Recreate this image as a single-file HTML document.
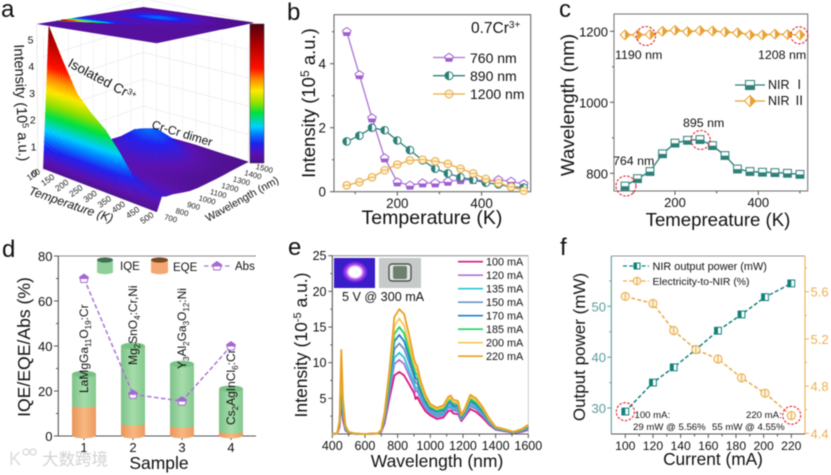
<!DOCTYPE html>
<html lang="en">
<head>
<meta charset="utf-8">
<title>Cr3+ near-infrared phosphor figure</title>
<style>
html,body{margin:0;padding:0;background:#fff;}
#figure{display:block;width:831px;height:475px;filter:blur(0.45px);font-family:"Liberation Sans","Noto Sans CJK SC",sans-serif;fill:#111;}
text{font-family:"Liberation Sans","Noto Sans CJK SC",sans-serif;}
</style>
</head>
<body>
<svg id="figure" xmlns="http://www.w3.org/2000/svg" width="831" height="475" viewBox="0 0 831 475">
<defs>
<linearGradient id="green-body" x1="0" x2="1" y1="0" y2="0"><stop offset="0" stop-color="#7cc488"/><stop offset=".5" stop-color="#a6dcaa"/><stop offset="1" stop-color="#84c98f"/></linearGradient>
<linearGradient id="orange-body" x1="0" x2="1" y1="0" y2="0"><stop offset="0" stop-color="#e8945a"/><stop offset=".5" stop-color="#f8b880"/><stop offset="1" stop-color="#eb9a60"/></linearGradient>
<radialGradient id="led-glow"><stop offset="0" stop-color="#fff"/><stop offset=".45" stop-color="#fff"/><stop offset=".7" stop-color="#b040f0"/><stop offset="1" stop-color="#3a1cc8"/></radialGradient>
<linearGradient id="colorbar-gradient" x1="0" x2="0" y1="1" y2="0">
<stop offset="0" stop-color="#4b1088"/><stop offset=".06" stop-color="#5a10b0"/><stop offset=".14" stop-color="#2020f0"/><stop offset=".21" stop-color="#0080ff"/><stop offset=".26" stop-color="#00d0ff"/><stop offset=".36" stop-color="#00e040"/><stop offset=".43" stop-color="#90e000"/><stop offset=".52" stop-color="#ffe800"/><stop offset=".6" stop-color="#ff8c00"/><stop offset=".68" stop-color="#ff1000"/><stop offset=".85" stop-color="#b00000"/><stop offset="1" stop-color="#500010"/>
</linearGradient>
</defs>

<text x="1" y="17" font-size="24">a</text>
<text x="287" y="20" font-size="24">b</text>
<text x="559" y="17" font-size="24">c</text>
<text x="2" y="257" font-size="24">d</text>
<text x="288" y="255" font-size="24">e</text>
<text x="560" y="255" font-size="24">f</text>

<g id="panel-a"></g>
<g id="panel-b"></g>
<g id="panel-c"></g>
<g id="panel-d"></g>
<g id="panel-e"></g>
<g id="panel-f"></g>

<!-- panel a text -->
<text transform="translate(16.5,103) rotate(87.5)" text-anchor="middle" font-size="14.5">Intensity (10<tspan dy="-5" font-size="9">5</tspan><tspan dy="5"> a.u.)</tspan></text>
<text transform="translate(67,66) rotate(28)" font-size="13.5">Isolated Cr<tspan dy="-4" font-size="8.5">3+</tspan></text>
<text transform="translate(151,128) rotate(17)" font-size="12">Cr-Cr dimer</text>
<text transform="translate(28,194) rotate(19)" font-size="12.2" font-style="italic">Temperature (K)</text>
<text transform="translate(208,222) rotate(-29)" font-size="10.8">Wavelength (nm)</text>

<!-- panel b text -->
<text x="432" y="224" text-anchor="middle" font-size="19.5">Temperature (K)</text>
<text transform="translate(315,103) rotate(-90)" text-anchor="middle" font-size="18.5">Intensity (10<tspan dy="-6" font-size="12">5</tspan><tspan dy="6"> a.u.)</tspan></text>
<text x="471" y="33" font-size="15.5">0.7Cr<tspan dy="-5" font-size="10">3+</tspan></text>
<text x="470" y="63" font-size="14">760 nm</text>
<text x="470" y="81" font-size="14">890 nm</text>
<text x="470" y="99" font-size="14">1200 nm</text>

<!-- panel c text -->
<text x="718" y="226" text-anchor="middle" font-size="18.6">Temepreature (K)</text>
<text transform="translate(574,105) rotate(-90)" text-anchor="middle" font-size="18.8">Wavelength (nm)</text>
<text x="615" y="59" font-size="12.4">1190 nm</text>
<text x="758" y="59" font-size="12.4">1208 nm</text>
<text x="683" y="127" font-size="12.4">895 nm</text>
<text x="613" y="165" font-size="12.4">764 nm</text>
<text x="768" y="89" font-size="12.5">NIR Ⅰ</text>
<text x="768" y="105" font-size="12.5">NIR Ⅱ</text>

<!-- panel d text -->
<text x="159" y="469" text-anchor="middle" font-size="17.5">Sample</text>
<text transform="translate(30,347) rotate(-90)" text-anchor="middle" font-size="17.6">IQE/EQE/Abs (%)</text>
<text transform="translate(88,393) rotate(-90)" font-size="12">LaMgGa<tspan dy="3" font-size="8">11</tspan><tspan dy="-3">O</tspan><tspan dy="3" font-size="8">19</tspan><tspan dy="-3">:Cr</tspan></text>
<text transform="translate(137,365) rotate(-90)" font-size="12">Mg<tspan dy="3" font-size="8">2</tspan><tspan dy="-3">SnO</tspan><tspan dy="3" font-size="8">4</tspan><tspan dy="-3">:Cr,Ni</tspan></text>
<text transform="translate(186,369) rotate(-90)" font-size="12">Y<tspan dy="3" font-size="8">3</tspan><tspan dy="-3">Al</tspan><tspan dy="3" font-size="8">2</tspan><tspan dy="-3">Ga</tspan><tspan dy="3" font-size="8">3</tspan><tspan dy="-3">O</tspan><tspan dy="3" font-size="8">12</tspan><tspan dy="-3">:Ni</tspan></text>
<text transform="translate(235,425) rotate(-90)" font-size="12">Cs<tspan dy="3" font-size="8">2</tspan><tspan dy="-3">AgInCl</tspan><tspan dy="3" font-size="8">6</tspan><tspan dy="-3">:Cr</tspan></text>
<text x="120" y="270" font-size="11.5">IQE</text>
<text x="173" y="271" font-size="11.5">EQE</text>
<text x="235" y="270" font-size="11.5">Abs</text>
<g>
<text x="9" y="465" font-size="18" fill="#dcdcdc">K</text>
<circle cx="26" cy="452" r="3" fill="none" stroke="#dcdcdc" stroke-width="1.5"/>
<circle cx="33" cy="452" r="3" fill="none" stroke="#dcdcdc" stroke-width="1.5"/>
<text x="42" y="465" font-size="16.5" fill="#d2d2d2">大数跨境</text>
</g>

<!-- panel e text -->
<text x="437" y="467" text-anchor="middle" font-size="17.5">Wavelength (nm)</text>
<text transform="translate(307,345) rotate(-90)" text-anchor="middle" font-size="17.5">Intensity (10<tspan dy="-6" font-size="11">-5</tspan><tspan dy="6"> a.u.)</tspan></text>
<g>
<rect x="334" y="258" width="41" height="30" fill="#3a1cc8"/>
<ellipse cx="355" cy="272" rx="13" ry="11" fill="url(#led-glow)"/>
</g>
<g>
<rect x="379" y="258" width="42" height="30" fill="#c6cac8"/>
<rect x="389" y="264" width="22" height="17" rx="3" fill="#e4e6e2" stroke="#4d5550" stroke-width="1.4"/>
<rect x="393" y="266" width="14" height="13" rx="2" fill="#6d8070"/>
</g>
<text x="342" y="301" font-size="12.6">5 V @ 300 mA</text>

<!-- panel f text -->
<text x="713" y="465" text-anchor="middle" font-size="17.3">Current (mA)</text>
<text transform="translate(585,347) rotate(-90)" text-anchor="middle" font-size="17">Output power (mW)</text>
<text x="652.5" y="270" font-size="10.9">NIR output power (mW)</text>
<text x="652.5" y="285" font-size="10.4">Electricity-to-NIR (%)</text>
<text x="634.5" y="418" font-size="9.6">100 mA:</text>
<text x="633" y="430" font-size="9.6">29 mW @ 5.56%</text>
<text x="746" y="418" font-size="9.6">220 mA:</text>
<text x="712" y="430" font-size="9.6">55 mW @ 4.55%</text>
</svg>

<script>
/* ---------- panel a data ---------- */
const aTemps = [100,150,200,250,300,350,400,450,500];
const aWaves = [700,744,780,844,916,988,1060,1140,1212,1284,1356,1500];
const aT100 = [.05,5.0,2.5,1.0,.5,.3,.25,.25,.2,.15,.1,.05];
const aT150 = [.05,3.95,2.2,1.0,.5,.3,.3,.4,.5,.4,.25,.08];
const aT200 = [.05,3.0,1.7,.8,.45,.3,.35,.6,.9,.8,.45,.1];
const aT250 = [.05,2.5,1.4,.7,.4,.3,.4,.7,1.05,.95,.5,.1];
const aT300 = [.05,2.1,1.15,.6,.35,.3,.35,.6,.9,.8,.45,.1];
const aT350 = [.05,1.5,.85,.5,.32,.26,.28,.4,.55,.5,.3,.08];
const aT400 = [.05,.8,.55,.4,.3,.22,.2,.22,.28,.26,.18,.06];
const aT450 = [.05,.55,.45,.38,.28,.18,.14,.12,.14,.14,.1,.05];
const aT500 = [.05,.5,.42,.36,.25,.15,.1,.08,.06,.05,.05,.03];
const aIntensity = [aT100,aT150,aT200,aT250,aT300,aT350,aT400,aT450,aT500];
const aZTicks = [0,1,2,3,4,5];
const aTempTicks = [100,150,200,250,300,350,400,450,500];
const aWaveTicks = [700,800,900,1000,1100,1200,1300,1400,1500];

/* ---------- panel b data ---------- */
const bTemps = [80,110,140,170,200,230,260,290,320,350,380,410,440,470,500];
const b760 = [5.0,3.65,2.3,1.05,.3,.2,.27,.27,.32,.37,.38,.33,.37,.32,.24];
const b890 = [1.57,1.75,2.0,1.92,1.6,1.3,.98,.72,.57,.45,.37,.28,.23,.15,.13];
const b1200 = [.2,.3,.45,.67,.85,.98,1.0,.95,.87,.72,.57,.4,.27,.15,.03];
const bXTicks = [200,400];
const bYTicks = [0,2,4];

/* ---------- panel c data ---------- */
const cTemps = [80,110,140,170,200,230,260,290,320,350,380,410,440,470,500];
const cNir1 = [764,785,805,855,885,893,895,878,850,812,805,803,802,800,797];
const cNir2 = [1190,1190,1191,1200,1203,1199,1202,1201,1198,1196,1190,1190,1192,1191,1190];
const cXTicks = [200,400];
const cYTicks = [800,1000,1200];

/* ---------- panel d data ---------- */
const dSamples = [1,2,3,4];
const dIqe = [27.5,40,32,21];
const dEqe = [13.5,5.5,4.5,2];
const dAbs = [70,18.5,15.5,40];
const dYTicks = [0,20,40,60,80];

/* ---------- panel e data ---------- */
const eWaves = [400,430,445,455,465,480,500,540,600,680,700,720,750,780,810,840,870,900,910,920,940,970,1000,1040,1080,1110,1125,1140,1160,1170,1190,1210,1245,1280,1320,1360,1400,1450,1510,1560,1600];
const e100 = [0,.05,1,4.6,2,.5,.15,.02,0,.05,.3,1.5,5,8.2,8.7,8.2,7,5.8,4.9,5.2,4.3,3.2,2.6,2.1,2.3,3.2,3.3,2.9,2.8,2.8,1.8,2.4,3.5,3.1,2.3,1.3,.6,.4,.15,.3,.6];
const e120 = [0,.06,1.2,6,2.6,.6,.2,.03,0,.06,.4,1.8,5.8,9.8,10.4,9.8,8.2,6.7,5.9,6.1,4.9,3.6,2.9,2.4,2.6,3.6,3.7,3.3,3.2,3.1,2,2.6,3.9,3.5,2.6,1.5,.7,.45,.18,.38,.73];
const e135 = [0,.07,1.3,6.8,2.9,.7,.2,.03,0,.07,.4,2,6.2,10.7,11.4,10.7,8.9,7.2,6.4,6.5,5.3,3.9,3.1,2.6,2.8,3.8,3.9,3.5,3.4,3.4,2.1,2.7,4.1,3.7,2.8,1.6,.7,.5,.2,.42,.8];
const e150 = [0,.07,1.5,7.6,3.4,.8,.2,.03,0,.07,.4,2.2,6.8,11.9,12.7,11.9,10,8,7.2,7.1,5.7,4.2,3.3,2.8,3,4.1,4.2,3.8,3.6,3.6,2.2,2.9,4.4,4,3,1.7,.8,.5,.22,.48,.93];
const e170 = [0,.08,1.6,8.6,3.7,.9,.23,.04,0,.08,.5,2.4,7.4,13,13.9,13,10.8,8.6,7.8,7.7,6.2,4.6,3.6,3.1,3.3,4.4,4.5,4,3.9,3.9,2.4,3.1,4.7,4.2,3.2,1.8,.85,.55,.24,.53,1];
const e185 = [0,.09,1.7,9.4,4,1,.25,.04,0,.09,.5,2.6,7.9,14,15,14.1,11.6,9.2,8.5,8.3,6.6,4.9,3.8,3.3,3.5,4.7,4.8,4.3,4.2,4.1,2.5,3.2,4.9,4.4,3.4,1.9,.9,.6,.26,.58,1.1];
const e200 = [0,.09,1.8,10.6,4.5,1.1,.28,.05,0,.09,.55,2.8,8.4,15.1,16.2,15.2,12.5,9.8,9.2,8.9,7,5.2,4,3.5,3.8,4.9,5,4.5,4.4,4.3,2.6,3.3,5.2,4.7,3.6,2,.95,.65,.28,.64,1.2];
const e220 = [0,.1,2,11.8,5,1.2,.3,.05,0,.1,.6,3,9,16.4,17.5,16.8,13.9,10.5,9.9,9.5,7.5,5.5,4.2,3.7,4,5.2,5.4,4.8,4.7,4.6,2.7,3.5,5.5,5,3.8,2.2,1,.7,.3,.7,1.3];
const eSeriesValues = [e100,e120,e135,e150,e170,e185,e200,e220];
const eSeriesLabels = ['100 mA','120 mA','135 mA','150 mA','170 mA','185 mA','200 mA','220 mA'];
const eXTicks = [400,600,800,1000,1200,1400,1600];
const eYTicks = [5,10,15,20,25];

/* ---------- panel f data ---------- */
const fCurrent = [100,120,135,151,167,184,201,220];
const fPower = [29.3,35,38,41.5,45.2,48.4,51.8,54.5];
const fEfficiency = [5.56,5.5,5.27,5.11,5.03,4.87,4.74,4.55];
const fXTicks = [100,120,140,160,180,200,220];
const fLeftTicks = [30,40,50];
const fRightTicks = [4.4,4.8,5.2,5.6];

/* ---------- helpers ---------- */
const NS = 'http://www.w3.org/2000/svg';
function mk(tag, attrs, parent) {
  const e = document.createElementNS(NS, tag);
  for (const k in attrs) e.setAttribute(k, attrs[k]);
  parent.appendChild(e);
  return e;
}
function linear(d0, d1, r0, r1) { return v => r0 + (v - d0) * (r1 - r0) / (d1 - d0); }
function xTick(parent, x, y, len, color) {
  const t = mk('line', {x1:x, x2:x, y1:y, y2:y + len, stroke:color, 'stroke-width':1}, parent);
  
  
}
function yTick(parent, x, y, len, color) {
  const t = mk('line', {x1:x, x2:x + len, y1:y, y2:y, stroke:color, 'stroke-width':1}, parent);
  
  
}
function tickText(parent, x, y, str, anchor, size, color) {
  const t = mk('text', {x:x, y:y, 'text-anchor':anchor, 'font-size':size, fill:color}, parent);
  t.textContent = str;
  
  
}
function frame(parent, l, r, t, b, color) {
  const f = mk('rect', {x:l, y:t, width:r - l, height:b - t, fill:'none', stroke:color, 'stroke-width':1.1}, parent);
  
  
}
function polyline(parent, xs, ys, color, width, dash) {
  const pts = xs.map((x, i) => x.toFixed(2) + ',' + ys[i].toFixed(2)).join(' ');
  const p = mk('polyline', {points:pts, fill:'none', stroke:color, 'stroke-width':width, 'stroke-linejoin':'round'}, parent);
  if (dash) p.setAttribute('stroke-dasharray', dash);
  
  
  return p;
}
function marker(parent, kind, cx, cy, r, color) {
  const g = mk('g', {transform:'translate(' + cx.toFixed(2) + ',' + cy.toFixed(2) + ')', stroke:color, 'stroke-width':1}, parent);
  
  
  const f = {fill:color, stroke:'none'};
  const pent = (r) => '0,' + (-r) + ' ' + r + ',' + (-.3*r) + ' ' + (.68*r) + ',' + (.9*r) + ' ' + (-.68*r) + ',' + (.9*r) + ' ' + (-r) + ',' + (-.3*r);
  if (kind === 'pent-bottom' || kind === 'pent-top') {
    mk('polygon', {points:pent(r), fill:'#fff'}, g);
    if (kind === 'pent-bottom') {
      mk('polygon', Object.assign({points:(-.85*r)+','+(.1*r)+' '+(.85*r)+','+(.1*r)+' '+(.68*r)+','+(.9*r)+' '+(-.68*r)+','+(.9*r)}, f), g);
    } else {
      mk('polygon', Object.assign({points:(-r)+','+(-.3*r)+' 0,'+(-r)+' '+r+','+(-.3*r)+' '+(.85*r)+','+(.1*r)+' '+(-.85*r)+','+(.1*r)}, f), g);
    }
  } else if (kind === 'circle-left') {
    mk('circle', {r:r, fill:'#fff'}, g);
    mk('path', Object.assign({d:'M0,'+(-r)+' A'+r+','+r+' 0 0 0 0,'+r+' Z'}, f), g);
  } else if (kind === 'circle-h') {
    mk('circle', {r:r, fill:'#fdf1d8'}, g);
    mk('line', {x1:-r, x2:r, y1:0, y2:0}, g);
  } else if (kind === 'circle-v') {
    mk('circle', {r:r, fill:'#fdf1d8'}, g);
    mk('line', {x1:0, x2:0, y1:-r, y2:r}, g);
  } else if (kind === 'square-bottom') {
    mk('rect', {x:-r, y:-r, width:2*r, height:2*r, fill:'#fff'}, g);
    mk('rect', Object.assign({x:-r, y:.1, width:2*r, height:r}, f), g);
  } else if (kind === 'square-left') {
    mk('rect', {x:-r, y:-r, width:2*r, height:2*r, fill:'#fff'}, g);
    mk('rect', Object.assign({x:-r, y:-r, width:r, height:2*r}, f), g);
  } else if (kind === 'diamond-right') {
    mk('polygon', {points:'0,'+(-r)+' '+r+',0 0,'+r+' '+(-r)+',0', fill:'#fff'}, g);
    mk('polygon', Object.assign({points:'0,'+(-r)+' '+r+',0 0,'+r}, f), g);
  }
}
function dashedCircle(parent, cx, cy, r) {
  const c = mk('circle', {cx:cx, cy:cy, r:r, fill:'none', stroke:'#e0202c', 'stroke-width':1.1, 'stroke-dasharray':'2.5 1.5'}, parent);
  
  
}
function legendLine(parent, x1, x2, y, color, dash) {
  const l = mk('line', {x1:x1, x2:x2, y1:y, y2:y, stroke:color, 'stroke-width':1.3}, parent);
  if (dash) l.setAttribute('stroke-dasharray', dash);
  
  
}

/* ---------- panel a ---------- */
(function () {
  const root = document.getElementById('panel-a');
  const A = [43.3,170], B = [156.7,213.3], C = [248.3,162.7], D = [143.3,133];
  const L = [36.7,24], F = [156.7,43.3], R = [253.3,22.7], K = [143.3,7.3];
  const zPx = 28.3;
  const stops = [[0,[75,16,136]],[.3,[90,16,176]],[.75,[32,32,240]],[1.1,[0,128,255]],[1.4,[0,208,255]],[1.9,[0,224,64]],[2.3,[144,224,0]],[2.75,[255,232,0]],[3.2,[255,140,0]],[3.6,[255,16,0]],[4.5,[176,0,0]],[5.3,[80,0,16]]];
  function colour(z) {
    for (let i = 1; i < stops.length; i++) {
      if (z <= stops[i][0]) {
        const a = stops[i-1], b = stops[i], t = Math.max(0, (z - a[0]) / (b[0] - a[0]));
        return 'rgb(' + a[1].map((c, k) => Math.round(c + (b[1][k] - c) * t)).join(',') + ')';
      }
    }
    return 'rgb(80,0,16)';
  }
  const bil = (P00, P10, P11, P01, u, v) => [0, 1].map(k =>
    (1-u)*(1-v)*P00[k] + u*(1-v)*P01[k] + u*v*P11[k] + (1-u)*v*P10[k]);
  const uOf = linear(aWaves[0], aWaves[aWaves.length-1], 0, 1);
  const vOf = linear(aTemps[0], aTemps[aTemps.length-1], 0, 1);
  const floor = (u, v) => bil(A, B, C, D, u, v);
  /* the top projection sits slightly warped relative to the floor */
  const ceil = (u, v) => {
    const uu = Math.min(1, .19 + .81 * u + .2 * v * (1 - u));
    const vv = v * (.33 + .67 * Math.min(1, u / .5));
    return bil(L, F, R, K, uu, vv);
  };

  /* walls */
  const wallL = mk('polygon', {points:[[38,172],L,K,D].map(p => p.join(',')).join(' '), fill:'#fff', stroke:'#ddd', 'stroke-width':.6}, root);
  
  
  const wallR = mk('polygon', {points:[D,K,R,C].map(p => p.join(',')).join(' '), fill:'#fff', stroke:'#ddd', 'stroke-width':.6}, root);
  
  
  aZTicks.forEach(z => {
    const h = z * zPx;
    const g1 = mk('line', {x1:A[0], y1:A[1]-h, x2:D[0], y2:D[1]-h*.95, stroke:'#e6e6e6', 'stroke-width':.6}, root);
    
    
    const g2 = mk('line', {x1:D[0], y1:D[1]-h*.95, x2:C[0], y2:C[1]-h, stroke:'#e6e6e6', 'stroke-width':.6}, root);
    
    
    tickText(root, 30.5 + (5 - z) * .75, 177 - z * 26.7, String(z), 'middle', 10.5, '#111');
  });
  aWaveTicks.forEach(w => {
    const u = (w - 700) / 800;
    const p = floor(u, 0);
    const g = mk('line', {x1:p[0], y1:p[1], x2:p[0], y2:p[1]-135, stroke:'#ececec', 'stroke-width':.6}, root);
    
    
    const q = floor(1, u);
    const g3 = mk('line', {x1:q[0], y1:q[1], x2:q[0], y2:q[1]-120, stroke:'#ececec', 'stroke-width':.6}, root);
    
    
  });

  /* cells */
  const cells = [];
  for (let r = 0; r < aTemps.length - 1; r++) {
    for (let c = 0; c < aWaves.length - 1; c++) {
      const SUBU = c === 0 ? 30 : 6, SUBV = 6;
      const u0 = uOf(aWaves[c]), u1 = uOf(aWaves[c+1]), v0 = vOf(aTemps[r]), v1 = vOf(aTemps[r+1]);
      const z00 = aIntensity[r][c], z01 = aIntensity[r][c+1], z10 = aIntensity[r+1][c], z11 = aIntensity[r+1][c+1];
      const zAt = (s, t) => (1-s)*(1-t)*z00 + s*(1-t)*z01 + (1-s)*t*z10 + s*t*z11;
      for (let i = 0; i < SUBU; i++) for (let j = 0; j < SUBV; j++) {
        const s0 = i/SUBU, s1 = (i+1)/SUBU, t0 = j/SUBV, t1 = (j+1)/SUBV;
        const uu = s => u0 + (u1-u0)*s, vv = t => v0 + (v1-v0)*t;
        cells.push({
          u:[uu(s0),uu(s1),uu(s1),uu(s0)],
          v:[vv(t0),vv(t0),vv(t1),vv(t1)],
          z:[zAt(s0,t0),zAt(s1,t0),zAt(s1,t1),zAt(s0,t1)],
          mid:zAt((s0+s1)/2,(t0+t1)/2),
          depth:floor(uu((s0+s1)/2), vv((t0+t1)/2))[1]
        });
      }
    }
  }
  /* ceiling projection */
  const ceilG = mk('g', {}, root);
  
  
  const ceilBase = mk('polygon', {points:[L,F,R,K].map(p => p.join(',')).join(' '), fill:'#55109e'}, ceilG);
  
  
  cells.slice().sort((a, b) => a.mid - b.mid).forEach(cell => {
    const pts = cell.u.map((u, i) => ceil(u, cell.v[i]).map(n => n.toFixed(2)).join(',')).join(' ');
    const col = colour(cell.mid);
    const p = mk('polygon', {points:pts, fill:col, stroke:col, 'stroke-width':.4}, ceilG);
    
    
  });
  /* surface */
  const surfG = mk('g', {}, root);
  
  
  cells.sort((a, b) => a.depth - b.depth).forEach(cell => {
    const pts = cell.u.map((u, i) => {
      const f = floor(u, cell.v[i]);
      return f[0].toFixed(2) + ',' + (f[1] - cell.z[i] * zPx).toFixed(2);
    }).join(' ');
    const col = colour(cell.mid);
    const p = mk('polygon', {points:pts, fill:col, stroke:col, 'stroke-width':.4}, surfG);
    
    
  });
  /* colour bar */
  const cb = mk('rect', {x:250, y:24, width:14, height:139, fill:'url(#colorbar-gradient)', stroke:'#333', 'stroke-width':.5}, root);
  
  
  /* tick labels */
  aTempTicks.forEach(T => {
    const p = floor(0, vOf(T));
    const t = mk('text', {transform:'translate(' + (p[0]-14).toFixed(1) + ',' + (p[1]+11).toFixed(1) + ') rotate(-35)', 'font-size':8.5, fill:'#222'}, root);
    t.textContent = T;
    
    
  });
  aWaveTicks.forEach(w => {
    const u = (w - 700) / 800;
    const p = [B[0] + (C[0]-B[0])*u, B[1] + (C[1]-B[1])*u];
    const t = mk('text', {transform:'translate(' + (p[0]+7).toFixed(1) + ',' + (p[1]+6).toFixed(1) + ') rotate(15)', 'font-size':7.8, fill:'#222'}, root);
    t.textContent = w;
    
    
  });
})();

/* ---------- panel b ---------- */
(function () {
  const root = document.getElementById('panel-b');
  const x = linear(200, 400, 397.3, 481.6), y = linear(0, 4, 191.7, 63.7);
  frame(root, 334, 530.7, 14.7, 191.7, '#6a6a6a');
  bXTicks.forEach(v => { xTick(root, x(v), 191.7, 4, '#555'); tickText(root, x(v), 208, String(v), 'middle', 13.4, '#111'); xTick(root, x(v+100), 191.7, 2.5, '#555'); });
  xTick(root, x(100), 191.7, 2.5, '#555');
  bYTicks.forEach(v => { yTick(root, 330, y(v), 4, '#555'); tickText(root, 326, y(v)+5, String(v), 'end', 13.4, '#111'); yTick(root, 332, y(v+1), 2, '#555'); });
  const purple = '#ab74d6', teal = '#2b7f78', gold = '#e9ab45';
  const xs = bTemps.map(x);
  polyline(root, xs, b760.map(y), purple, 1.3);
  polyline(root, xs, b890.map(y), teal, 1.3);
  polyline(root, xs, b1200.map(y), gold, 1.3);
  bTemps.forEach((T, i) => marker(root, 'pent-bottom', x(T), y(b760[i]), 4.2, '#9f5fd0'));
  bTemps.forEach((T, i) => marker(root, 'circle-left', x(T), y(b890[i]), 3.8, teal));
  bTemps.forEach((T, i) => marker(root, 'circle-h', x(T), y(b1200[i]), 3.8, gold));
  legendLine(root, 433, 465, 57.5, purple);
  marker(root, 'pent-bottom', 449, 57.5, 4.2, '#9f5fd0');
  legendLine(root, 433, 465, 75.7, teal);
  marker(root, 'circle-left', 449, 75.7, 4, teal);
  legendLine(root, 433, 465, 94, gold);
  marker(root, 'circle-h', 449, 94, 4, gold);
})();

/* ---------- panel c ---------- */
(function () {
  const root = document.getElementById('panel-c');
  const x = linear(200, 400, 675, 758.3), y = linear(800, 1200, 173.3, 31.3);
  frame(root, 614, 807.7, 14, 191, '#7a7a7a');
  cXTicks.forEach(v => { xTick(root, x(v), 191, 4, '#555'); tickText(root, x(v), 207, String(v), 'middle', 13, '#111'); xTick(root, x(v+100), 191, 2.5, '#555'); });
  xTick(root, x(100), 191, 2.5, '#555');
  cYTicks.forEach(v => { yTick(root, 610, y(v), 4, '#555'); tickText(root, 608, y(v)+5, String(v), 'end', 13, '#111'); if (v < 1200) yTick(root, 612, y(v+100), 2, '#555'); });
  const teal = '#2f8078', gold = '#e8a030';
  const xs = cTemps.map(x);
  polyline(root, xs, cNir1.map(y), teal, 1.4);
  polyline(root, xs, cNir2.map(y), gold, 1.4);
  cTemps.forEach((T, i) => marker(root, 'square-bottom', x(T), y(cNir1[i]), 3.9, teal));
  cTemps.forEach((T, i) => marker(root, 'diamond-right', x(T), y(cNir2[i]), 4.8, gold));
  dashedCircle(root, 626, 186, 10);
  dashedCircle(root, 646, 36, 9.5);
  dashedCircle(root, 799.3, 35.3, 8.5);
  dashedCircle(root, 700.7, 140, 9.5);
  legendLine(root, 735, 765, 85, teal);
  marker(root, 'square-bottom', 750, 85, 4.5, teal);
  legendLine(root, 735, 765, 101, gold);
  marker(root, 'diamond-right', 750, 101, 5.5, gold);
})();

/* ---------- panel d ---------- */
(function () {
  const root = document.getElementById('panel-d');
  const x = linear(1, 4, 84, 231), y = linear(0, 80, 436, 256);
  const top = mk('line', {x1:58, x2:256, y1:256, y2:256, stroke:'#8a8a8a', 'stroke-width':1}, root);
  
  
  const left = mk('line', {x1:58.3, x2:58.3, y1:256, y2:436, stroke:'#555', 'stroke-width':1.1}, root);
  
  
  const bottom = mk('line', {x1:58, x2:256, y1:436, y2:436, stroke:'#555', 'stroke-width':1.1}, root);
  
  
  dYTicks.forEach(v => { yTick(root, 54, y(v), 4, '#555'); tickText(root, 52.5, y(v)+5, String(v), 'end', 13, '#111'); if (v < 80) yTick(root, 56, y(v+10), 2, '#555'); });
  dSamples.forEach(s => { xTick(root, x(s), 436, 4, '#555'); tickText(root, x(s), 452, String(s), 'middle', 13, '#111'); });
  const h = 12, ry = 3.3;
  dSamples.forEach((s, i) => {
    const cx = x(s), yi = y(dIqe[i]), ye = y(dEqe[i]), y0 = y(0) - 1;
    const iqe = mk('path', {d:'M'+(cx-h)+','+yi+' L'+(cx-h)+','+y0+' A'+h+','+ry+' 0 0 0 '+(cx+h)+','+y0+' L'+(cx+h)+','+yi+' Z', fill:'url(#green-body)'}, root);
    
    
    const cap = mk('ellipse', {cx:cx, cy:yi, rx:h, ry:ry, fill:'#79c186'}, root);
    
    
    const eqe = mk('path', {d:'M'+(cx-h)+','+ye+' A'+h+','+(ry*.6)+' 0 0 0 '+(cx+h)+','+ye+' L'+(cx+h)+','+y0+' A'+h+','+ry+' 0 0 1 '+(cx-h)+','+y0+' Z', fill:'url(#orange-body)'}, root);
    
    
  });
  const purple = '#ab74d6';
  polyline(root, dSamples.map(x), dAbs.map(y), purple, 1.5, '4.5 2.5');
  dSamples.forEach((s, i) => marker(root, 'pent-top', x(s), y(dAbs[i]), 4.4, '#a468d4'));
  /* legend */
  const g1 = mk('rect', {x:97, y:260, width:16, height:12, fill:'#8fd09a'}, root);
  
  
  const g1b = mk('ellipse', {cx:105, cy:260, rx:8, ry:2.6, fill:'#456f50'}, root);
  
  
  const g1c = mk('ellipse', {cx:105, cy:272, rx:8, ry:2.2, fill:'#8fd09a'}, root);
  
  
  const g2 = mk('rect', {x:151, y:260, width:17, height:12, fill:'#f2a870'}, root);
  
  
  const g2b = mk('ellipse', {cx:159.5, cy:260, rx:8.5, ry:2.6, fill:'#7a4a22'}, root);
  
  
  const g2c = mk('ellipse', {cx:159.5, cy:272, rx:8.5, ry:2.2, fill:'#f2a870'}, root);
  
  
  legendLine(root, 204, 230, 266, purple, '4.5 2.5');
  marker(root, 'pent-top', 217, 266, 4.5, '#a468d4');
})();

/* ---------- panel e ---------- */
(function () {
  const root = document.getElementById('panel-e');
  const x = linear(400, 1600, 332.3, 528.3), y = linear(0, 25, 434, 255.7);
  const eColors = ['#d6197f','#b070d8','#2bc4dc','#6c94c0','#1a80d0','#20d060','#f5c850','#e8a020'];
  const top = mk('line', {x1:332.3, x2:528.3, y1:255.7, y2:255.7, stroke:'#8a8a8a', 'stroke-width':1}, root);
  
  
  const right = mk('line', {x1:528.3, x2:528.3, y1:255.7, y2:434, stroke:'#c4c4c4', 'stroke-width':.8}, root);
  
  
  const left = mk('line', {x1:332.3, x2:332.3, y1:255.7, y2:434, stroke:'#555', 'stroke-width':1.1}, root);
  
  
  const bottom = mk('line', {x1:332.3, x2:528.3, y1:434, y2:434, stroke:'#555', 'stroke-width':1.1}, root);
  
  
  eXTicks.forEach(v => { xTick(root, x(v), 434, 4, '#555'); tickText(root, x(v), 450, String(v), 'middle', 12.5, '#111'); if (v < 1600) xTick(root, x(v+100), 434, 2.5, '#555'); });
  eYTicks.forEach(v => { yTick(root, 328.3, y(v), 4, '#555'); tickText(root, 326.5, y(v)+4.5, String(v), 'end', 12.5, '#111'); yTick(root, 330.3, y(v-2.5), 2, '#555'); });
  const xs = eWaves.map(x);
  eSeriesValues.forEach((vals, i) => { polyline(root, xs, vals.map(y), eColors[i], 1.8); });
  eSeriesLabels.forEach((lab, i) => {
    const ly = 261.7 + i * 13.5;
    const l = mk('line', {x1:458, x2:483, y1:ly, y2:ly, stroke:eColors[i], 'stroke-width':1.7}, root);
    
    
    const t = mk('text', {x:486, y:ly + 3.8, 'font-size':10.8, fill:'#111'}, root);
    t.textContent = lab;
    
    
  });
})();

/* ---------- panel f ---------- */
(function () {
  const root = document.getElementById('panel-f');
  const x = linear(100, 220, 625.3, 791.3), yL = linear(30, 50, 408, 306.3), yR = linear(4.4, 5.6, 433.3, 291.7);
  const teal = '#12807a', gold = '#e9ac4a', tickTeal = '#5a9a9a', tickGold = '#eeb050';
  const top = mk('line', {x1:611.3, x2:805, y1:256, y2:256, stroke:'#9a9a9a', 'stroke-width':1}, root);
  
  
  const left = mk('line', {x1:611.3, x2:611.3, y1:256, y2:434, stroke:'#5a9a9a', 'stroke-width':1.1}, root);
  
  
  const right = mk('line', {x1:805, x2:805, y1:256, y2:434, stroke:'#eeb050', 'stroke-width':1.1}, root);
  
  
  const bottom = mk('line', {x1:611.3, x2:805, y1:434, y2:434, stroke:'#555', 'stroke-width':1.1}, root);
  
  
  fXTicks.forEach(v => { xTick(root, x(v), 434, 4, '#555'); tickText(root, x(v), 450, String(v), 'middle', 12.2, '#111'); if (v < 220) xTick(root, x(v+10), 434, 2.5, '#555'); });
  fLeftTicks.forEach(v => { yTick(root, 607.3, yL(v), 4, tickTeal); tickText(root, 606, yL(v)+5, String(v), 'end', 13, tickTeal); yTick(root, 609.3, yL(v+5), 2, tickTeal); });
  fRightTicks.forEach(v => { yTick(root, 805, yR(v), 4, tickGold); tickText(root, 810.5, yR(v)+5, v.toFixed(1), 'start', 13, tickGold); yTick(root, 805, yR(v+.2), 2, tickGold); });
  const xs = fCurrent.map(x);
  polyline(root, xs, fPower.map(yL), teal, 1.5, '4 2.2');
  polyline(root, xs, fEfficiency.map(yR), gold, 1.5, '4 2.2');
  fCurrent.forEach((c, i) => marker(root, 'square-left', x(c), yL(fPower[i]), 3.4, teal));
  fCurrent.forEach((c, i) => marker(root, 'circle-v', x(c), yR(fEfficiency[i]), 4.1, gold));
  dashedCircle(root, 625.3, 411.7, 9);
  dashedCircle(root, 791.7, 415.3, 9);
  legendLine(root, 623, 649, 266, teal, '4 2.2');
  marker(root, 'square-left', 637, 266, 3, teal);
  legendLine(root, 623, 649, 281, gold, '4 2.2');
  marker(root, 'circle-v', 637, 281, 3.8, gold);
})();
</script>
</body>
</html>
